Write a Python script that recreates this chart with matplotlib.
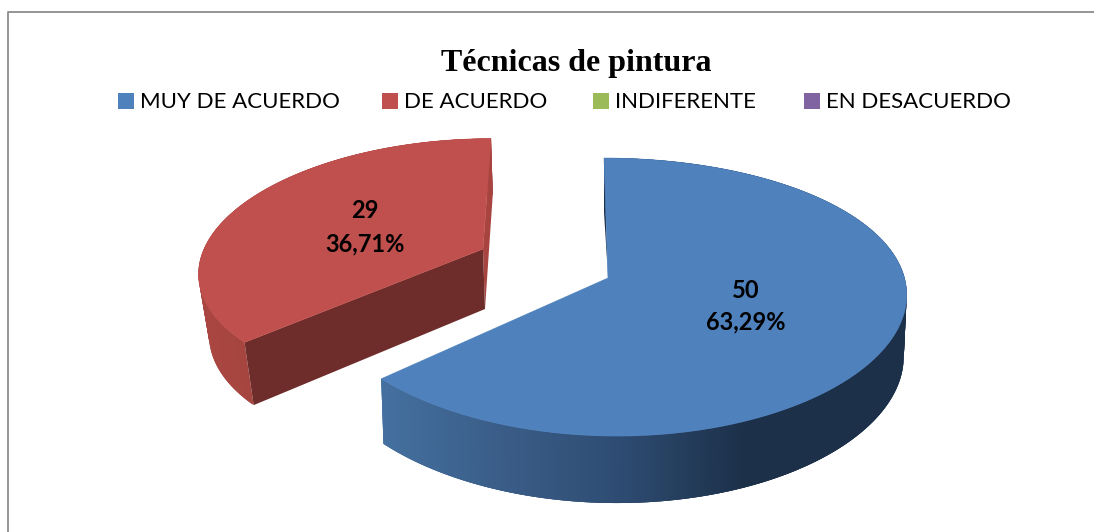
#!/usr/bin/env python3
"""Tecnicas de pintura - exploded 3D style pie, drawn in pixel coordinates."""
import numpy as np
import matplotlib
matplotlib.use('Agg')
import matplotlib.pyplot as plt
from matplotlib.colors import to_rgb
from matplotlib.patches import Polygon, Rectangle

categories = ['MUY DE ACUERDO', 'DE ACUERDO', 'INDIFERENTE', 'EN DESACUERDO']
values = [50, 29, 0, 0]
percent_labels = ['63,29%', '36,71%', '', '']
title = 'Técnicas de pintura'

COLORS = ['#4F81BD', '#C0504D', '#9BBB59', '#8064A2']
SANS = 'Lato'

# per slice look: apex, radii, perspective, skew, wall depth, wall shading
SLICES = [
    dict(cx=608, cy=278, ox=2.5, rx=294, a=136.4, k=0.137, kx=0.1, skew=6.5,
         d0=61, d1=6, xs=0.99, dx=0, face_dx=4, label=(746, 290, 322),
         near_face=None, far_face='#1C3049',
         wall=[(383, '#44709F'), (500, '#3A5D88'), (620, '#2E4C72'),
               (745, '#1C3049'), (910, '#1C3049')]),
    dict(cx=483, cy=249, ox=0, rx=279, a=126, k=0.1416, kx=0.168, skew=-8,
         d0=60, d1=4, xs=0.97, dx=2, face_dx=2, label=(365, 210, 244),
         near_face='#6E2C2A', far_face='#A8443F',
         wall=[(200, '#AA4642'), (260, '#A4443F')]),
]


def project(theta, s):
    # theta is clockwise from the back of the pie, radians
    X, Y = np.sin(theta), -np.cos(theta)
    x = s['cx'] + s['ox'] + s['rx'] * X / (1 - s['kx'] * Y) + s['skew'] * Y
    y = s['cy'] + s['a'] * Y / (1 - s['k'] * Y)
    return x, y


def lower(x, y, s, Y):
    return (s['cx'] + s['dx'] + (x - s['cx']) * s['xs'],
            y + s['d0'] + s['d1'] * Y)


def wall_color(x, stops):
    xs = [p[0] for p in stops]
    rgb = np.array([to_rgb(p[1]) for p in stops])
    return [np.interp(x, xs, rgb[:, i]) for i in range(3)]


fig = plt.figure(figsize=(10.94, 5.32), dpi=100)
ax = fig.add_axes([0, 0, 1, 1])
ax.set_xlim(0, 1094)
ax.set_ylim(532, 0)
ax.axis('off')

# frame, only left and top are in the picture
ax.plot([8, 8, 1094], [532, 11.5, 11.5], color='#8C8C8C', lw=1.3)

ax.text(576.5, 71, title, family='Liberation Serif', fontweight='bold',
        fontsize=23, ha='center', va='baseline', color='black')

legend_x = [118, 382, 593, 804]
for cat, col, lx in zip(categories, COLORS, legend_x):
    ax.add_patch(Rectangle((lx, 93), 15.5, 15.5, facecolor=col, edgecolor='none'))
    ax.text(lx + 22, 108, cat, family=SANS, fontsize=16, ha='left',
            va='baseline', color='black')

total = sum(values)
edges = np.cumsum([0] + values) / total * 2 * np.pi

# red piece sits behind the blue one
for i in [1, 0]:
    s = SLICES[i]
    col = COLORS[i]
    th = np.linspace(edges[i], edges[i + 1], 361)
    x, y = project(th, s)
    Y = -np.cos(th)
    bx, by = lower(x, y, s, Y)

    # outer wall as strips that overlap, so no seams show
    for j in range(len(th) - 1):
        k = min(j + 3, len(th) - 1)
        c = wall_color((x[j] + x[j + 1]) / 2, s['wall'])
        ax.add_patch(Polygon([(x[j], y[j]), (x[k], y[k]), (bx[k], by[k]), (bx[j], by[j])],
                             facecolor=c, edgecolor='none'))

    apex = (s['cx'], s['cy'])
    apex_low = (s['cx'] + s['face_dx'], s['cy'] + s['d0'])
    # cut faces, the far one first
    far = 0 if i == 0 else -1
    ax.add_patch(Polygon([apex, (x[far], y[far]), (bx[far], by[far]), apex_low],
                         facecolor=s['far_face'], edgecolor='none'))
    if s['near_face']:
        ax.add_patch(Polygon([apex, (x[0], y[0]), (bx[0], by[0]), apex_low],
                             facecolor=s['near_face'], edgecolor='none'))

    ax.add_patch(Polygon(np.vstack([apex, np.column_stack([x, y])]),
                         facecolor=col, edgecolor=col, lw=0.4))

    lx, ly1, ly2 = s['label']
    ax.text(lx, ly1, str(values[i]), family=SANS, fontweight='bold', fontsize=17,
            ha='center', va='center', color='black')
    ax.text(lx, ly2, percent_labels[i], family=SANS, fontweight='bold', fontsize=17,
            ha='center', va='center', color='black')

fig.savefig('out.png', dpi=100, facecolor='white')
